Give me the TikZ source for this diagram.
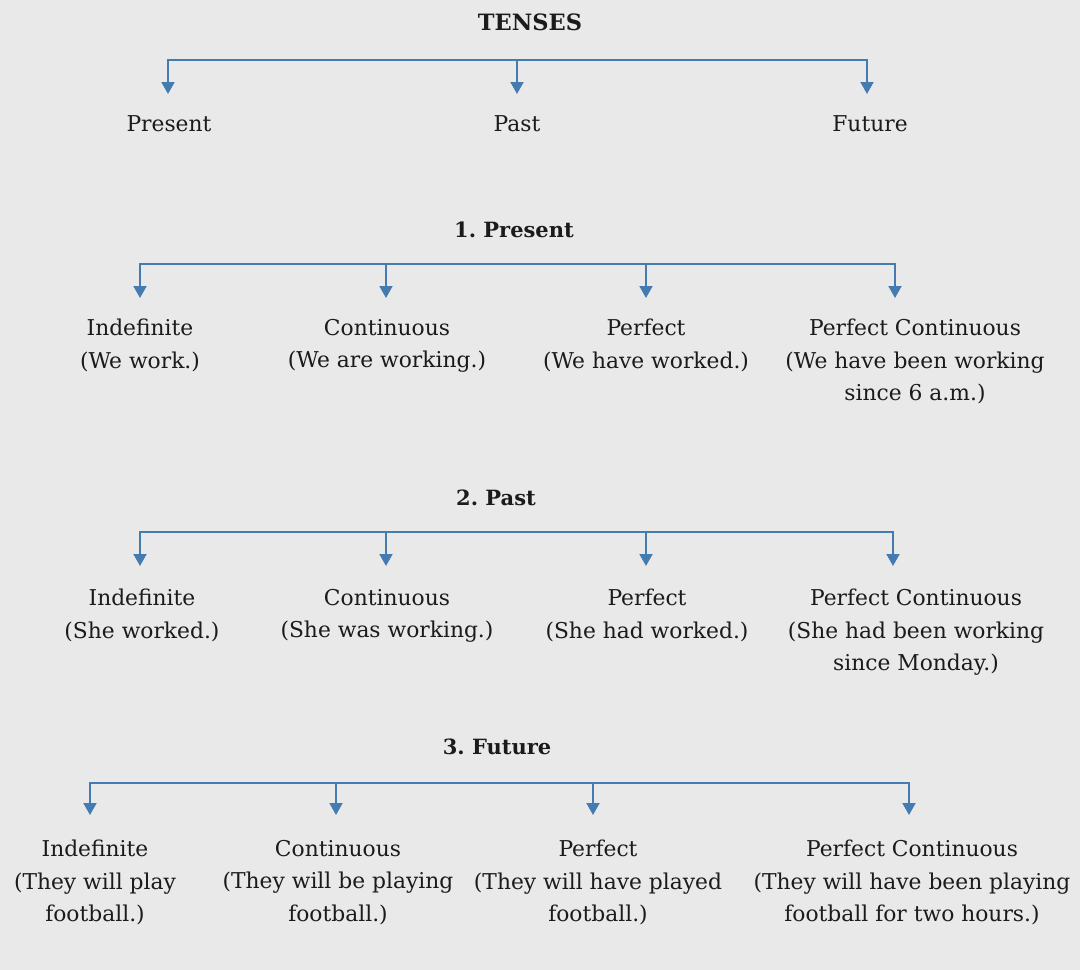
\documentclass[tikz,border=0pt]{standalone}
\usepackage{fontspec}
\setmainfont{DejaVu Serif}
\usetikzlibrary{arrows.meta}
\definecolor{bg}{RGB}{233,233,233}
\definecolor{lineblue}{RGB}{68,124,178}
\definecolor{ink}{RGB}{28,26,26}
\begin{document}
\frenchspacing
\begin{tikzpicture}[x=1pt,y=-1pt,
  lbl/.style={align=center, font=\fontsize{21.8}{32.5}\selectfont, text=ink, inner sep=0pt, anchor=north},
  one/.style={font=\fontsize{21.8}{32.5}\selectfont, text=ink, inner sep=0pt, anchor=base},
  head/.style={font=\fontsize{21}{24}\selectfont\bfseries, text=ink, inner sep=0pt, anchor=base},
  conn/.style={draw=lineblue, line width=1.9pt},
  tips/.style={{Triangle[width=13pt,length=12pt]}-{Triangle[width=13pt,length=12pt]}},
  tip/.style={-{Triangle[width=13pt,length=12pt]}}
]
\fill[bg] (0,0) rectangle (1080,970);
\useasboundingbox (0,0) rectangle (1080,970);

% ---------- TENSES ----------
\node[head,font=\fontsize{22.5}{24}\selectfont\bfseries] (tenses) at (530,30) {TENSES};
\node[one] (present) at (169,131) {Present};
\node[one] (past) at (517,131) {Past};
\node[one] (future) at (870,131) {Future};
\coordinate (a1) at (168,60);
\coordinate (a2) at (517,60);
\coordinate (a3) at (867,60);
\coordinate (ta1) at (168,94);
\coordinate (ta2) at (517,94);
\coordinate (ta3) at (867,94);
\draw[conn,tips] (ta1) -- (a1) -- (a3) -- (ta3);
\draw[conn,tip] (a2) -- (ta2);

% ---------- 1. Present ----------
\node[head] (h1) at (514,237) {1. Present};
\node[lbl] (p1) at (140,319) {Indefinite\\(We work.)};
\node[lbl] (p2) at (387,319) {Continuous\\(We are working.)};
\node[lbl] (p3) at (646,319) {Perfect\\(We have worked.)};
\node[lbl] (p4) at (915,319) {Perfect Continuous\\(We have been working\\since 6 a.m.)};
\coordinate (b1) at (140,264);
\coordinate (b2) at (386,264);
\coordinate (b3) at (646,264);
\coordinate (b4) at (895,264);
\coordinate (tb1) at (140,298);
\coordinate (tb2) at (386,298);
\coordinate (tb3) at (646,298);
\coordinate (tb4) at (895,298);
\draw[conn,tips] (tb1) -- (b1) -- (b4) -- (tb4);
\draw[conn,tip] (b2) -- (tb2);
\draw[conn,tip] (b3) -- (tb3);

% ---------- 2. Past ----------
\node[head] (h2) at (496,505) {2. Past};
\node[lbl] (q1) at (142,589) {Indefinite\\(She worked.)};
\node[lbl] (q2) at (387,589) {Continuous\\(She was working.)};
\node[lbl] (q3) at (647,589) {Perfect\\(She had worked.)};
\node[lbl] (q4) at (916,589) {Perfect Continuous\\(She had been working\\since Monday.)};
\coordinate (c1) at (140,532);
\coordinate (c2) at (386,532);
\coordinate (c3) at (646,532);
\coordinate (c4) at (893,532);
\coordinate (tc1) at (140,566);
\coordinate (tc2) at (386,566);
\coordinate (tc3) at (646,566);
\coordinate (tc4) at (893,566);
\draw[conn,tips] (tc1) -- (c1) -- (c4) -- (tc4);
\draw[conn,tip] (c2) -- (tc2);
\draw[conn,tip] (c3) -- (tc3);

% ---------- 3. Future ----------
\node[head] (h3) at (497,754) {3. Future};
\node[lbl] (r1) at (95,840) {Indefinite\\(They will play\\football.)};
\node[lbl] (r2) at (338,840) {Continuous\\(They will be playing\\football.)};
\node[lbl] (r3) at (598,840) {Perfect\\(They will have played\\football.)};
\node[lbl] (r4) at (912,840) {Perfect Continuous\\(They will have been playing\\football for two hours.)};
\coordinate (d1) at (90,783);
\coordinate (d2) at (336,783);
\coordinate (d3) at (593,783);
\coordinate (d4) at (909,783);
\coordinate (td1) at (90,815);
\coordinate (td2) at (336,815);
\coordinate (td3) at (593,815);
\coordinate (td4) at (909,815);
\draw[conn,tips] (td1) -- (d1) -- (d4) -- (td4);
\draw[conn,tip] (d2) -- (td2);
\draw[conn,tip] (d3) -- (td3);
\end{tikzpicture}
\end{document}
